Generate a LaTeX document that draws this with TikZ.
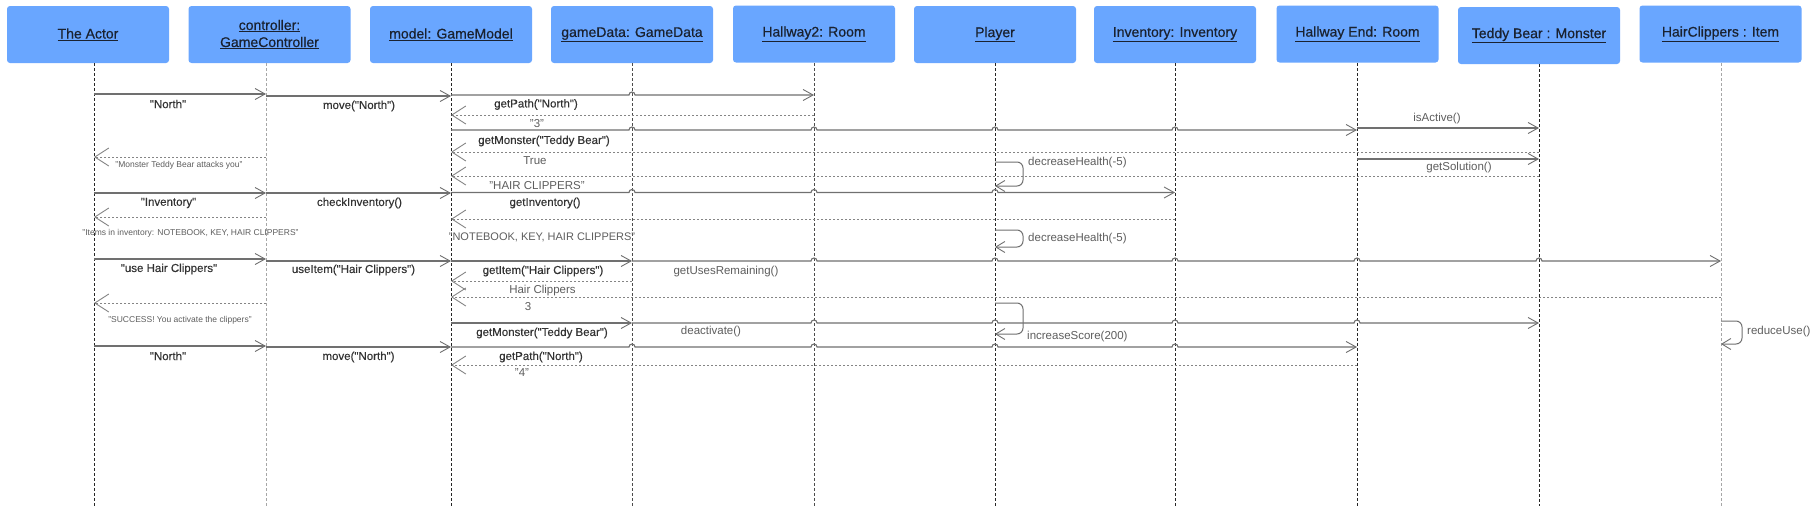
\documentclass[tikz,border=0pt]{standalone}
\usepackage{fontspec}
\setmainfont{Liberation Sans}
\newfontfamily\hdrfont[FakeBold=0.5]{Liberation Sans}
\newfontfamily\lblfont[FakeBold=0.25]{Liberation Sans}
\usetikzlibrary{arrows.meta,calc}
\definecolor{boxblue}{HTML}{69A6FF}
\definecolor{hdrtext}{HTML}{1A2230}
\definecolor{msgline}{HTML}{707070}
\definecolor{lblcol}{HTML}{333333}
\definecolor{retcol}{HTML}{5E5E5E}
\newcommand\hopmsg[4]{\draw[call] (#1 |- 0,#3) foreach \lname in {#4} { -- ($(\lname |- 0,#3)+(-3,0)$) arc[start angle=180,end angle=0,radius=3pt] } -- (#2 |- 0,#3);}
\begin{document}
\begin{tikzpicture}[x=1pt,y=-1pt,
  hdr/.style={fill=boxblue, rounded corners=3pt, minimum width=162pt, minimum height=57pt, inner sep=0pt, font=\hdrfont\fontsize{14}{17}\selectfont, text=hdrtext, align=center},
  life/.style={draw=black!85, line width=0.8pt, dash pattern=on 3pt off 2pt},
  lifel/.style={draw=black!35, line width=0.8pt, dash pattern=on 3pt off 2pt},
  call/.style={draw=msgline, line width=1.1pt, -{Straight Barb[length=10pt,width=11pt,line width=0.9pt]}},
  ret/.style={draw=msgline!85, line width=1pt, dash pattern=on 2pt off 2pt, -{Straight Barb[length=14pt,width=18pt,line width=0.9pt]}},
  selfcall/.style={draw=msgline, line width=1pt, rounded corners=6pt, -{Straight Barb[length=9pt,width=11pt,line width=0.9pt]}},
  lbl/.style={font=\lblfont\fontsize{11.5}{13}\selectfont, text=lblcol, inner sep=0pt},
  rlbl/.style={font=\fontsize{11.5}{13}\selectfont, text=retcol, inner sep=0pt},
  small/.style={font=\fontsize{8.5}{10}\selectfont, text=retcol, inner sep=0pt},
]
\fill[white] (0,0) rectangle (1820,506);
\useasboundingbox (0,0) rectangle (1820,506);

% headers
\node[hdr] (hA) at (88,34.5) {\underline{The Actor}};
\node[hdr] (hC) at (269.5,34.5) {\underline{controller:}\\\underline{GameController}};
\node[hdr] (hM) at (451,34.5) {\underline{model: GameModel}};
\node[hdr] (hD) at (632,34.5) {\underline{gameData: GameData}};
\node[hdr] (hH) at (814,34) {\underline{Hallway2: Room}};
\node[hdr] (hP) at (995,34.5) {\underline{Player}};
\node[hdr] (hI) at (1175,34.5) {\underline{Inventory: Inventory}};
\node[hdr] (hE) at (1357.5,34) {\underline{Hallway End: Room}};
\node[hdr] (hT) at (1539,35.5) {\underline{Teddy Bear : Monster}};
\node[hdr] (hX) at (1720.5,34) {\underline{HairClippers : Item}};

% lifeline tops
\coordinate (A) at (94,63);
\coordinate (C) at (266,63);
\coordinate (M) at (451,63);
\coordinate (D) at (632,63);
\coordinate (H2) at (814,63);
\coordinate (P) at (995,63);
\coordinate (I) at (1175,63);
\coordinate (HE) at (1357,63);
\coordinate (T) at (1539,64);
\coordinate (HC) at (1721,63);

\draw[life] (A) -- (A |- 0,506);
\draw[lifel] (C) -- (C |- 0,506);
\draw[life] (M) -- (M |- 0,506);
\draw[life,draw=black!70] (D) -- (D |- 0,506);
\draw[life,draw=black!70] (H2) -- (H2 |- 0,506);
\draw[life] (P) -- (P |- 0,506);
\draw[life] (I) -- (I |- 0,506);
\draw[life] (HE) -- (HE |- 0,506);
\draw[life] (T) -- (T |- 0,506);
\draw[lifel] (HC) -- (HC |- 0,506);

% row 1
\draw[call] (A |- 0,94) -- (C |- 0,94);
\draw[call] (C |- 0,96) -- (M |- 0,96);
\hopmsg{M}{H2}{95}{D}
\draw[ret] (H2 |- 0,115) -- (M |- 0,115);
\hopmsg{M}{HE}{130}{D,H2,P,I}
\draw[call] (HE |- 0,128) -- (T |- 0,128);
\draw[ret] (C |- 0,157) -- (A |- 0,157);
\draw[ret] (T |- 0,152) -- (M |- 0,152);
\draw[call] (HE |- 0,159) -- (T |- 0,159);
\draw[ret] (T |- 0,176) -- (M |- 0,176);
\draw[selfcall] (P |- 0,162) -- (1023,162) -- (1023,186) -- (P |- 0,186);

\node[lbl] (l1) at (168,104) {"North"};
\node[lbl] (l2) at (359,106) {move("North")};
\node[lbl] (l3) at (536,104.5) {getPath("North")};
\node[rlbl] (l4) at (537,124) {"3"};
\node[rlbl] (l5) at (1437,119) {isActive()};
\node[small] (l6) at (179,165) {"Monster Teddy Bear attacks you"};
\node[lbl] (l7) at (544,141) {getMonster("Teddy Bear")};
\node[rlbl] (l8) at (535,161) {True};
\node[rlbl] (l9) at (1459,168) {getSolution()};
\node[rlbl] (l10) at (537,186) {"HAIR CLIPPERS"};
\node[rlbl,anchor=west] (l11) at (1028,163) {decreaseHealth(-5)};

% inventory
\draw[call] (A |- 0,193) -- (C |- 0,193);
\draw[call] (C |- 0,193) -- (M |- 0,193);
\hopmsg{M}{I}{192.5}{D,H2,P}
\draw[ret] (C |- 0,217) -- (A |- 0,217);
\draw[ret] (I |- 0,219) -- (M |- 0,219);
\draw[selfcall] (P |- 0,230) -- (1023,230) -- (1023,247) -- (P |- 0,247);

\node[lbl] (l12) at (168.5,203) {"Inventory"};
\node[lbl] (l13) at (359.5,203) {checkInventory()};
\node[lbl] (l14) at (545,203) {getInventory()};
\node[small] (l15) at (190.5,233) {"Items in inventory: NOTEBOOK, KEY, HAIR CLIPPERS"};
\node[rlbl] (l16) at (542,237) {\fontsize{11}{13}\selectfont"NOTEBOOK, KEY, HAIR CLIPPERS"};
\node[rlbl,anchor=west] (l17) at (1028,239) {decreaseHealth(-5)};

% use item
\draw[call] (A |- 0,259) -- (C |- 0,259);
\draw[call] (C |- 0,261) -- (M |- 0,261);
\draw[call] (M |- 0,261) -- (D |- 0,261);
\hopmsg{D}{HC}{261}{H2,P,I,HE,T}
\draw[ret] (D |- 0,281) -- (M |- 0,281);
\draw[ret] (HC |- 0,297) -- (M |- 0,297);
\draw[ret] (C |- 0,303) -- (A |- 0,303);
\draw[selfcall] (P |- 0,303) -- (1023,303) -- (1023,334) -- (P |- 0,334);
\draw[call] (M |- 0,323) -- (D |- 0,323);
\hopmsg{D}{T}{323}{H2,P,I,HE}
\draw[selfcall] (HC |- 0,321) -- (1742,321) -- (1742,344) -- (HC |- 0,344);

\node[lbl] (l18) at (169,269) {"use Hair Clippers"};
\node[lbl] (l19) at (353.5,270) {useItem("Hair Clippers")};
\node[lbl] (l20) at (543,271) {getItem("Hair Clippers")};
\node[rlbl] (l21) at (726,272) {getUsesRemaining()};
\node[rlbl] (l22) at (542.5,291) {Hair Clippers};
\node[rlbl] (l23) at (528,307) {3};
\node[small] (l24) at (180,320) {"SUCCESS! You activate the clippers"};
\node[rlbl,anchor=west] (l25) at (1027,337) {increaseScore(200)};
\node[lbl] (l26) at (542,333) {getMonster("Teddy Bear")};
\node[rlbl] (l27) at (711,332) {deactivate()};
\node[rlbl,anchor=west] (l28) at (1747,332) {reduceUse()};

% last move
\draw[call] (A |- 0,346) -- (C |- 0,346);
\draw[call] (C |- 0,347) -- (M |- 0,347);
\hopmsg{M}{HE}{347}{D,H2,P,I}
\draw[ret] (HE |- 0,365) -- (M |- 0,365);

\node[lbl] (l29) at (168,356) {"North"};
\node[lbl] (l30) at (358.5,357) {move("North")};
\node[lbl] (l31) at (541,357) {getPath("North")};
\node[rlbl] (l32) at (522,373) {"4"};
\end{tikzpicture}
\end{document}
